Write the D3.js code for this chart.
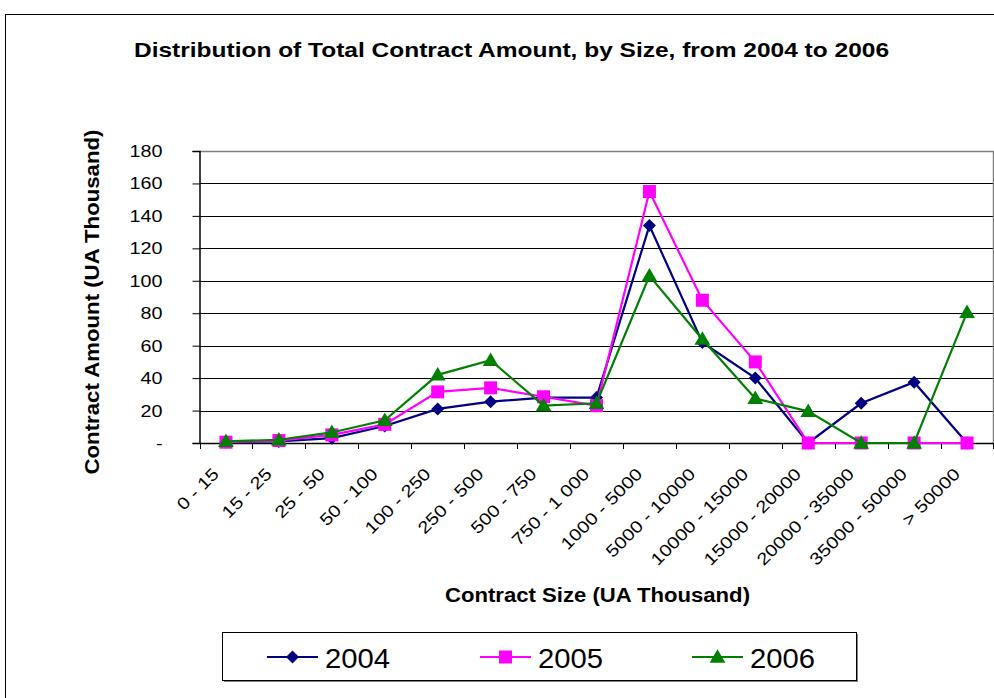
<!DOCTYPE html>
<html>
<head>
<meta charset="utf-8">
<script src="https://cdn.jsdelivr.net/npm/d3@7"></script>
<style>
  html, body { margin: 0; padding: 0; background: #fff; }
  svg { display: block; font-family: "Liberation Sans", Arial, sans-serif; }
</style>
</head>
<body>
<svg id="chart" width="994" height="698"></svg>
<script>
const categories = ["0 - 15", "15 - 25", "25 - 50", "50 - 100", "100 - 250", "250 - 500", "500 - 750", "750 - 1 000", "1000 - 5000", "5000 - 10000", "10000 - 15000", "15000 - 20000", "20000 - 35000", "35000 - 50000", "> 50000"];
const years = ["2004", "2005", "2006"];
const values2004 = [0.5, 1, 3, 10.5, 21, 25.5, 28, 28, 134, 62, 40, 0, 24.5, 37.5, 0];
const values2005 = [0.5, 1.5, 5, 11.5, 31.5, 34, 28.5, 23, 155, 88, 50, 0, 0, 0, 0];
const values2006 = [1, 2, 6.5, 14, 42, 51, 23, 24.5, 103, 64, 27.5, 19.5, 0, 0, 80.5];
const yTicks = [0, 20, 40, 60, 80, 100, 120, 140, 160, 180];
const colors = ["#000080", "#FF00FF", "#008000"];
const markers = ["diamond", "square", "triangle"];

(function () {
const seriesList = years.map((yr, i) => ({
  name: yr,
  values: [values2004, values2005, values2006][i],
  color: colors[i],
  marker: markers[i]
}));

const svg = d3.select("#chart");

// widen text along its baseline (reference glyphs are wider than Liberation Sans)
function stretch(sel, k) {
  sel.each(function () {
    const len = this.getComputedTextLength();
    d3.select(this).attr("textLength", len * k).attr("lengthAdjust", "spacingAndGlyphs");
  });
}
function fitLength(sel, L) {
  sel.attr("textLength", L).attr("lengthAdjust", "spacingAndGlyphs");
}

// outer chart border
svg.append("rect").attr("x", 5.5).attr("y", 14.5).attr("width", 1000).attr("height", 700)
  .attr("fill", "#fff").attr("stroke", "#000").attr("stroke-width", 1);

const pLeft = 199.5, pRight = 993.5, pTop = 151, pBottom = 443;
const x = d3.scaleBand().domain(categories).range([pLeft, pRight]).paddingInner(0).paddingOuter(0);
const y = d3.scaleLinear().domain([0, 180]).range([pBottom, pTop]);

// gridlines
svg.append("g").selectAll("line").data(yTicks.filter(t => t > 0 && t < 180)).join("line")
  .attr("x1", pLeft).attr("x2", pRight)
  .attr("y1", d => Math.round(y(d)) + 0.5).attr("y2", d => Math.round(y(d)) + 0.5)
  .attr("stroke", "#000").attr("stroke-width", 1);

// plot area border (top/right gray)
svg.append("path")
  .attr("d", `M${pLeft},${Math.round(y(180)) + 0.5}H${pRight}V${pBottom}`)
  .attr("fill", "none").attr("stroke", "#808080").attr("stroke-width", 1.5);

// Y axis
const yAxis = d3.axisLeft(y).tickValues(yTicks).tickSize(7).tickPadding(30)
  .tickFormat(d => d === 0 ? "-" : d3.format("d")(d));
const gy = svg.append("g").attr("transform", `translate(${pLeft},0)`).call(yAxis);
gy.select(".domain").attr("stroke", "#000").attr("stroke-width", 1.5);
gy.selectAll(".tick line").attr("stroke", "#000");
gy.selectAll(".tick text").attr("font-size", 17).attr("fill", "#000")
  .attr("font-family", "Liberation Sans, Arial, sans-serif");
stretch(gy.selectAll(".tick text"), 1.16);

// X axis: ticks at category boundaries
const gx = svg.append("g").attr("transform", `translate(0,${pBottom})`);
gx.append("line").attr("x1", pLeft).attr("x2", pRight).attr("y1", 0.5).attr("y2", 0.5)
  .attr("stroke", "#000").attr("stroke-width", 1.5);
const boundaries = categories.map(c => x(c)).concat([x(categories[categories.length - 1]) + x.bandwidth()]);
gx.selectAll("line.tk").data(boundaries).join("line").attr("class", "tk")
  .attr("x1", d => Math.round(d) + 0.5).attr("x2", d => Math.round(d) + 0.5)
  .attr("y1", 0).attr("y2", 6).attr("stroke", "#000");
const xl = gx.selectAll("text.lbl").data(categories).join("text").attr("class", "lbl")
  .attr("transform", d => `translate(${x(d) + x.bandwidth() / 2 - 6},${32}) rotate(-45)`)
  .attr("text-anchor", "end")
  .attr("font-size", 17).attr("fill", "#000")
  .text(d => d);
stretch(xl, 1.18);

// lines & markers
const line = d3.line().x((d, i) => x(categories[i]) + x.bandwidth() / 2).y(d => y(d));
function markerPath(type, s) {
  if (type === "diamond") return `M0,${-s}L${s},0L0,${s}L${-s},0Z`;
  if (type === "square") return `M${-s},${-s}H${s}V${s}H${-s}Z`;
  return `M0,${-s * 1.05}L${s * 1.05},${s * 0.75}H${-s * 1.05}Z`;
}
const markerSize = { diamond: 6.5, square: 6.5, triangle: 7.5 };

seriesList.forEach(s => {
  const g = svg.append("g");
  g.append("path").datum(s.values).attr("d", line)
    .attr("fill", "none").attr("stroke", s.color).attr("stroke-width", 2.2);
  g.selectAll("path.m").data(s.values).join("path").attr("class", "m")
    .attr("transform", (d, i) => `translate(${x(categories[i]) + x.bandwidth() / 2},${y(d)})`)
    .attr("d", markerPath(s.marker, markerSize[s.marker]))
    .attr("fill", s.color);
});

// title
const t = svg.append("text").attr("x", 511.5).attr("y", 57).attr("text-anchor", "middle")
  .attr("font-weight", "bold").attr("font-size", 21).text("Distribution of Total Contract Amount, by Size, from 2004 to 2006");
fitLength(t, 755);

// axis titles
const xt = svg.append("text").attr("x", 597.5).attr("y", 602).attr("text-anchor", "middle")
  .attr("font-weight", "bold").attr("font-size", 20).text("Contract Size (UA Thousand)");
fitLength(xt, 305);
const yt = svg.append("text").attr("transform", "translate(99,302) rotate(-90)").attr("text-anchor", "middle")
  .attr("font-weight", "bold").attr("font-size", 20).text("Contract Amount (UA Thousand)");
fitLength(yt, 345);

// legend
const lg = svg.append("g");
lg.append("rect").attr("x", 224).attr("y", 634).attr("width", 634).attr("height", 48).attr("fill", "#808080");
lg.append("rect").attr("x", 222.5).attr("y", 632.5).attr("width", 634).attr("height", 48)
  .attr("fill", "#fff").attr("stroke", "#000").attr("stroke-width", 1);
const legendX = [267, 480, 692];
seriesList.forEach((s, i) => {
  const gi = lg.append("g").attr("transform", `translate(${legendX[i]},657)`);
  gi.append("line").attr("x1", 0).attr("x2", 51).attr("y1", 0).attr("y2", 0)
    .attr("stroke", s.color).attr("stroke-width", 2.2);
  gi.append("path").attr("transform", "translate(25.5,0)")
    .attr("d", markerPath(s.marker, markerSize[s.marker])).attr("fill", s.color);
  const tx = gi.append("text").attr("x", 58).attr("y", 11).attr("font-size", 28).attr("fill", "#000").text(s.name);
  fitLength(tx, 65);
});
})();
</script>
</body>
</html>
